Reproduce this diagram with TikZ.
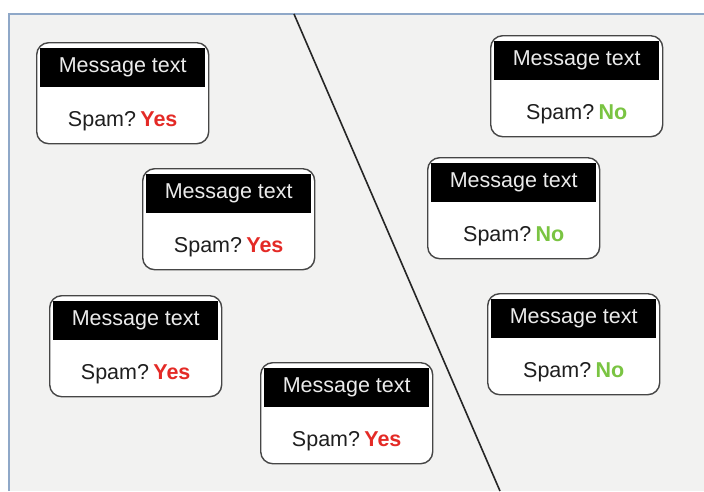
\documentclass[tikz,border=0pt]{standalone}
\usepackage{fontspec}
\setmainfont{Liberation Sans}
\definecolor{panelbg}{RGB}{242,242,241}
\definecolor{panelrule}{RGB}{143,168,200}
\definecolor{cardrule}{RGB}{70,70,70}
\definecolor{yesred}{RGB}{228,42,38}
\definecolor{nogreen}{RGB}{122,196,66}
\tikzset{
  card/.style={draw=cardrule, line width=1.4pt, fill=white, rounded corners=12pt,
    minimum width=172pt, minimum height=101pt, inner sep=0pt, anchor=north west},
  cardhead/.style={fill=black, minimum width=165pt, minimum height=39pt, inner sep=0pt,
    text=white!92!black, font=\fontsize{21.5}{22}\selectfont},
  cardbody/.style={font=\fontsize{21.5}{22}\selectfont, text=black!88},
}
% a message card: name, left, top, answer colour, answer word
\newcommand{\msgcard}[5]{%
  \node[card] (#1) at (#2pt,-#3pt) {};
  \node[cardhead, anchor=north] (#1h) at ([yshift=-6pt]#1.north) {Message text};
  \node[cardbody] (#1b) at ([yshift=-79pt]#1.north) {Spam?\hspace{0.2em}\textcolor{#4}{\textbf{#5}}};
}
\begin{document}
\begin{tikzpicture}[x=1pt,y=1pt]
  \useasboundingbox (0,0) rectangle (704,-491);
  \fill[white] (0,0) rectangle (704,-491);
  % panel
  \fill[panelbg] (9,-14) rectangle (704,-491);
  \draw[panelrule, line width=1.6pt] (9,-491) -- (9,-14) -- (704,-14);
  % separating line
  \coordinate (lt) at (294,-14);
  \coordinate (lb) at (500,-491);
  \draw[black!85, line width=1.6pt] (lt) -- (lb);
  % cards
  \msgcard{c1}{36}{42}{yesred}{Yes}
  \msgcard{c2}{490}{35}{nogreen}{No}
  \msgcard{c3}{142}{168}{yesred}{Yes}
  \msgcard{c4}{427}{157}{nogreen}{No}
  \msgcard{c5}{49}{295}{yesred}{Yes}
  \msgcard{c6}{487}{293}{nogreen}{No}
  \msgcard{c7}{260}{362}{yesred}{Yes}
\end{tikzpicture}
\end{document}
